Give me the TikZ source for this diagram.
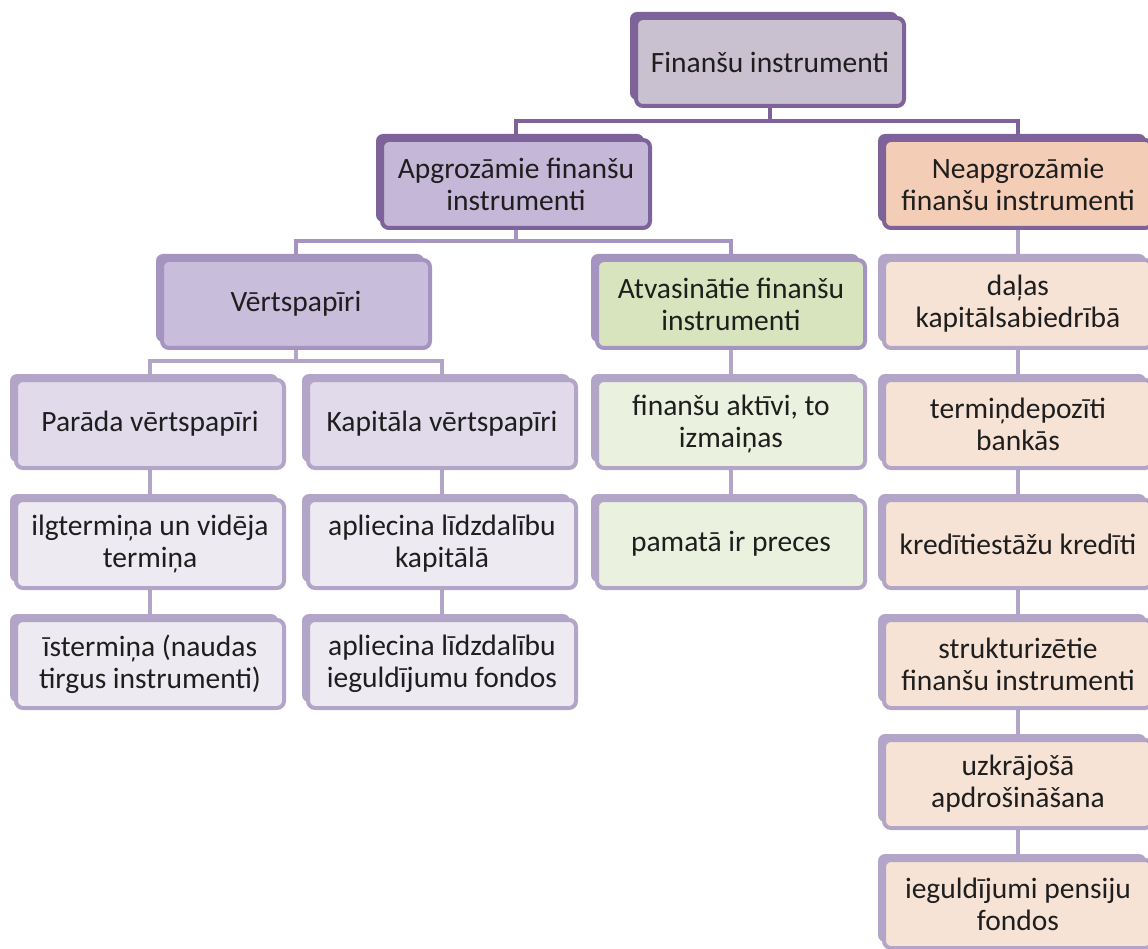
\documentclass[tikz,border=0pt]{standalone}
\usepackage{fontspec}
\setmainfont{Carlito}
\usepackage{tikz}
\usetikzlibrary{shadows, backgrounds}
\definecolor{frameD}{HTML}{7D6399}
\definecolor{frameM}{HTML}{A594BF}
\definecolor{frameL}{HTML}{B2A5C7}
\definecolor{fillTop}{HTML}{C9C1CF}
\definecolor{fillApg}{HTML}{C5B7D7}
\definecolor{fillNeap}{HTML}{F3CDB6}
\definecolor{fillVert}{HTML}{C8BDDA}
\definecolor{fillAtv}{HTML}{D8E4BE}
\definecolor{fillVio}{HTML}{E0DAEA}
\definecolor{fillPale}{HTML}{EDEAF1}
\definecolor{fillGreen}{HTML}{EBF1DF}
\definecolor{fillPeach}{HTML}{F7E3D6}
\definecolor{txt}{HTML}{1E1E1E}
\tikzset{
	base/.style={line width=4pt, rounded corners=7pt, minimum width=268pt, minimum height=88pt, inner sep=2pt, align=center, text=txt, font=\fontsize{29.5}{32}\selectfont},
	dark/.style={base, draw=frameD, general shadow={fill=frameD, shadow xshift=-6pt, shadow yshift=6pt}},
	mid/.style={base, draw=frameM, general shadow={fill=frameM, shadow xshift=-6pt, shadow yshift=6pt}},
	light/.style={base, draw=frameL, general shadow={fill=frameL, shadow xshift=-6pt, shadow yshift=6pt}},
	linkD/.style={draw=frameD, line width=4.5pt},
	linkM/.style={draw=frameM, line width=4pt},
	linkL/.style={draw=frameL, line width=4pt}
}

\begin{document}
\begin{tikzpicture}[x=1pt, y=-1pt]
	\useasboundingbox (0,0) rectangle (1148,949);
	\node[dark, fill=fillTop] (fin) at (770,62) {Finanšu instrumenti};
	\node[dark, fill=fillApg] (apg) at (516,184) {Apgrozāmie finanšu\\instrumenti};
	\node[dark, fill=fillNeap] (neap) at (1018,184) {Neapgrozāmie\\finanšu instrumenti};
	\node[mid, fill=fillVert] (vert) at (296,304) {Vērtspapīri};
	\node[mid, fill=fillAtv] (atv) at (731,304) {Atvasinātie finanšu\\instrumenti};
	\node[light, fill=fillVio] (parada) at (150,424) {Parāda vērtspapīri};
	\node[light, fill=fillVio] (kapitala) at (442,424) {Kapitāla vērtspapīri};
	\node[light, fill=fillPale] (ilgterm) at (150,544) {ilgtermiņa un vidēja\\termiņa};
	\node[light, fill=fillPale] (isterm) at (150,664) {īstermiņa (naudas\\tirgus instrumenti)};
	\node[light, fill=fillPale] (kapit) at (442,544) {apliecina līdzdalību\\kapitālā};
	\node[light, fill=fillPale] (fondi) at (442,664) {apliecina līdzdalību\\ieguldījumu fondos};
	\node[light, fill=fillGreen] (aktivi) at (731,424) {finanšu aktīvi, to\\izmaiņas};
	\node[light, fill=fillGreen] (preces) at (731,544) {pamatā ir preces};
	\node[light, fill=fillPeach] (dalas) at (1018,304) {daļas\\kapitālsabiedrībā};
	\node[light, fill=fillPeach] (depoz) at (1018,424) {termiņdepozīti\\bankās};
	\node[light, fill=fillPeach] (kred) at (1018,544) {kredītiestāžu kredīti};
	\node[light, fill=fillPeach] (strukt) at (1018,664) {strukturizētie\\finanšu instrumenti};
	\node[light, fill=fillPeach] (uzkr) at (1018,784) {uzkrājošā\\apdrošināšana};
	\node[light, fill=fillPeach] (pens) at (1018,904) {ieguldījumi pensiju\\fondos};
	\coordinate (bar0) at (770,121);
	\coordinate (bar1) at (516,241);
	\coordinate (bar2) at (296,361);
	\begin{scope}[on background layer]
		\draw[linkD] (fin.south) -- (bar0) -| (apg.north);
		\draw[linkD] (bar0) -| (neap.north);
		\draw[linkM] (apg.south) -- (bar1) -| (vert.north);
		\draw[linkM] (bar1) -| (atv.north);
		\draw[linkL] (vert.south) -- (bar2) -| (parada.north);
		\draw[linkL] (bar2) -| (kapitala.north);
		\draw[linkL] (parada) -- (ilgterm) -- (isterm);
		\draw[linkL] (kapitala) -- (kapit) -- (fondi);
		\draw[linkL] (atv) -- (aktivi) -- (preces);
		\draw[linkL] (neap) -- (dalas) -- (depoz) -- (kred) -- (strukt) -- (uzkr) -- (pens);
	\end{scope}
\end{tikzpicture}
\end{document}
